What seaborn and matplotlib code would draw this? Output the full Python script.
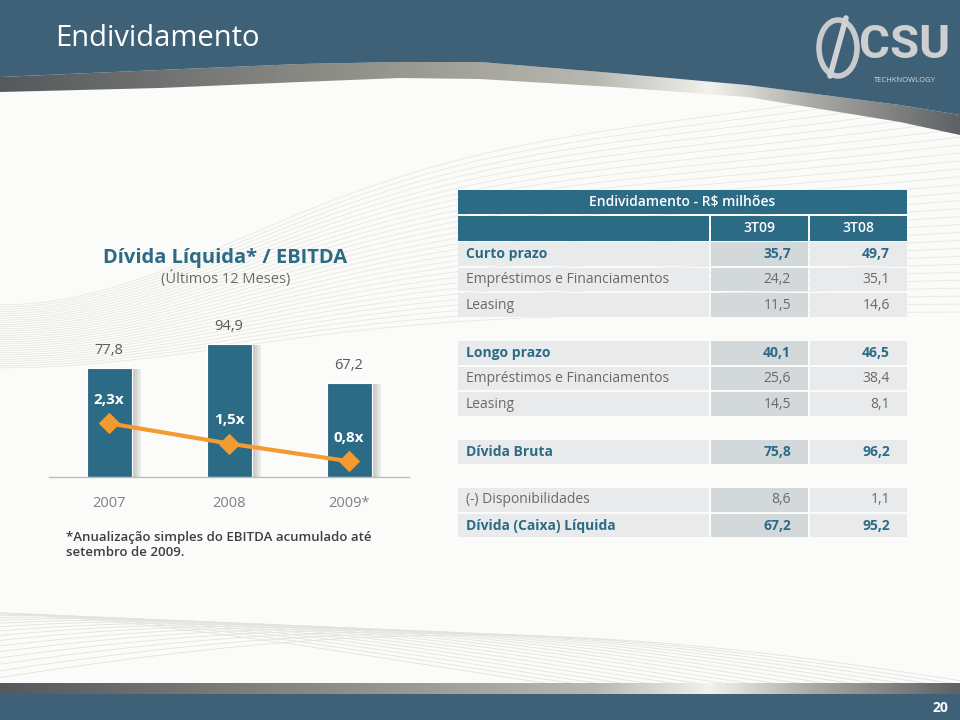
import numpy as np
import matplotlib
matplotlib.use("Agg")
import matplotlib.pyplot as plt
import matplotlib.patheffects as pe
from matplotlib.patches import Rectangle, Ellipse, Polygon
from matplotlib.colors import LinearSegmentedColormap
import seaborn as sns
import pandas as pd

# ---------------- data ----------------
years = ["2007", "2008", "2009*"]
divida_liquida = [77.8, 94.9, 67.2]
alavancagem = [2.3, 1.5, 0.8]

table_labels = ["Curto prazo", "Empréstimos e Financiamentos", "Leasing",
                "Longo prazo", "Empréstimos e Financiamentos", "Leasing",
                "Dívida Bruta",
                "(-) Disponibilidades", "Dívida (Caixa) Líquida"]
col_3t09 = [35.7, 24.2, 11.5, 40.1, 25.6, 14.5, 75.8, 8.6, 67.2]
col_3t08 = [49.7, 35.1, 14.6, 46.5, 38.4, 8.1, 96.2, 1.1, 95.2]
bold_rows = [True, False, False, True, False, False, True, False, True]
row_blocks = [3, 3, 1, 2]
col_headers = ["3T09", "3T08"]
table_title = "Endividamento - R$ milhões"

def fmt(v):
    return f"{v:.1f}".replace(".", ",")

# ---------------- style ----------------
sns.set_theme(style="white")
plt.rcParams["font.family"] = ["Open Sans", "DejaVu Sans"]

BLUE_HDR = "#3E6178"
TEAL = "#2C6B86"
ORANGE = "#F39A30"
GRAY_TXT = "#6A6A6A"
BG = "#FBFBF9"

W, H = 960, 720
fig = plt.figure(figsize=(9.6, 7.2), dpi=100)
fig.patch.set_facecolor(BG)

bg = fig.add_axes([0, 0, 1, 1])
bg.set_xlim(0, W)
bg.set_ylim(H, 0)
bg.axis("off")

# decorative faint curves (background texture)
xs = np.linspace(0, W, 240)
for k in range(30):
    yy = 95 + k * 5.5 + 150 * np.exp(-((xs) / 330) ** 2) * (1 - k / 45) - 0.00008 * xs ** 2 * (1 - k / 30)
    bg.plot(xs, yy + 60, color="#E7E7E3", lw=0.6, zorder=0)
for k in range(18):
    yy = 690 - 55 * np.sin(np.pi * (xs + 80) / 1100 + k * 0.10) - k * 1.5
    bg.plot(xs, yy, color="#E2E2DE", lw=0.6, zorder=0)

# header: blue band with curved metallic strip
cx = np.array([0, 160, 300, 400, 480, 613, 747, 900, 960])
top_c = np.array([77, 70, 64, 62, 62, 73, 85, 105, 115])
bot_c = np.array([92, 88, 82, 78, 79, 87, 97, 122, 135])
xx = np.linspace(0, W, 300)
tc = np.interp(xx, cx, top_c)
bc = np.interp(xx, cx, bot_c)
metal = LinearSegmentedColormap.from_list(
    "metal", [(0, "#55595C"), (0.35, "#8E8E88"), (0.62, "#B9B8B0"), (0.74, "#F2F2EE"),
              (0.85, "#A9A9A4"), (1.0, "#5E6265")])
strip = bg.fill_between(xx, tc, bc, color="none", lw=0, zorder=1)
grad = bg.imshow(np.linspace(0, 1, 256)[None, :], cmap=metal, aspect="auto",
                 extent=(0, W, 140, 55), zorder=1)
grad.set_clip_path(strip.get_paths()[0], transform=bg.transData)
bg.fill_between(xx, 0, tc, color=BLUE_HDR, zorder=2, lw=0)
bg.text(55, 39, "Endividamento", color="white", fontsize=21, va="center", ha="left", zorder=3)

# logo (approximation)
bg.add_patch(Ellipse((838, 48), 38, 56, fill=False, ec="#C8CACB", lw=4, zorder=3))
bg.plot([830, 846], [76, 18], color="#D0D2D3", lw=4, zorder=3)
bg.text(905, 45, "CSU", color="#CDCFD0", fontsize=34, fontweight="bold", ha="center",
        va="center", zorder=3, family=["Roboto", "DejaVu Sans"])
bg.text(905, 80, "TECHKNOWLOGY", color="#D8D8D8", fontsize=5.5, ha="center", va="center", zorder=3)

# footer
fstrip = Rectangle((0, 683), W, 11, color="none", lw=0)
bg.add_patch(fstrip)
fgrad = bg.imshow(np.linspace(0, 1, 256)[None, :], cmap=metal, aspect="auto",
                  extent=(0, W, 694, 683), zorder=2)
fgrad.set_clip_path(fstrip)
bg.add_patch(Rectangle((0, 694), W, 26, color=BLUE_HDR, zorder=2, lw=0))
bg.text(940, 708, "20", color="white", fontsize=10, fontweight="bold", ha="center", va="center", zorder=3)

# ---------------- table ----------------
tx0, tx1 = 458, 907
c1, c2 = 709, 808
sep = 2
bg.add_patch(Rectangle((tx0, 190), tx1 - tx0, 24, color=TEAL, zorder=2, lw=0))
bg.text((tx0 + tx1) / 2, 202, table_title, color="white", fontsize=10, fontweight="semibold",
        ha="center", va="center", zorder=3)
hy, hh = 216, 25
bg.add_patch(Rectangle((tx0, hy), c1 - tx0, hh, color=TEAL, zorder=2, lw=0))
bg.add_patch(Rectangle((c1 + sep, hy), c2 - c1 - sep, hh, color=TEAL, zorder=2, lw=0))
bg.add_patch(Rectangle((c2 + sep, hy), tx1 - c2 - sep, hh, color=TEAL, zorder=2, lw=0))
bg.text((c1 + sep + c2) / 2, hy + hh / 2, col_headers[0], color="white", fontsize=10,
        fontweight="semibold", ha="center", va="center", zorder=3)
bg.text((c2 + sep + tx1) / 2, hy + hh / 2, col_headers[1], color="white", fontsize=10,
        fontweight="semibold", ha="center", va="center", zorder=3)

pitch, gap = 25.6, 22.3
y = 242.0
i = 0
for nb in row_blocks:
    for _ in range(nb):
        h = pitch - sep
        bg.add_patch(Rectangle((tx0, y), c1 - tx0, h, color="#E8EAEB", zorder=2, lw=0))
        bg.add_patch(Rectangle((c1 + sep, y), c2 - c1 - sep, h, color="#D3D8DB", zorder=2, lw=0))
        bg.add_patch(Rectangle((c2 + sep, y), tx1 - c2 - sep, h, color="#E8EAEB", zorder=2, lw=0))
        b = bold_rows[i]
        col = TEAL if b else GRAY_TXT
        fw = "bold" if b else "normal"
        yc = y + h / 2
        bg.text(466, yc, table_labels[i], color=col, fontweight=fw, fontsize=10, ha="left", va="center", zorder=3)
        bg.text(791, yc, fmt(col_3t09[i]), color=col, fontweight=fw, fontsize=10, ha="right", va="center", zorder=3)
        bg.text(890, yc, fmt(col_3t08[i]), color=col, fontweight=fw, fontsize=10, ha="right", va="center", zorder=3)
        y += pitch
        i += 1
    y += gap

# ---------------- chart ----------------
base_px, top_px = 476.7, 308.7
ax = fig.add_axes([49 / W, 1 - base_px / H, 360 / W, (base_px - top_px) / H])
ax.set_facecolor("none")
df = pd.DataFrame({"ano": years, "divida": divida_liquida, "ratio": alavancagem})
sns.barplot(data=df, x="ano", y="divida", ax=ax, color=TEAL, saturation=1, width=0.375)
shadow = [pe.SimplePatchShadow(offset=(o, -1), shadow_rgbFace="#6f6f6f", alpha=0.10) for o in (7, 5.5, 4, 2.5)]
shadow.append(pe.Normal())
for p in ax.patches:
    p.set_path_effects(shadow)
    p.set_edgecolor("white")
    p.set_linewidth(0.8)
ax.set_ylim(0, 120)
ax.set_xlim(-0.5, 2.5)
for c in ax.containers:
    ax.bar_label(c, labels=[fmt(v) for v in divida_liquida], padding=7, fontsize=10.5, color="#5A5A5A")
ax.set_xlabel("")
ax.set_ylabel("")
ax.set_yticks([])
ax.set_xticks(range(len(years)))
ax.set_xticklabels(years, fontsize=10.5, color="#808080")
ax.tick_params(axis="x", which="major", length=0, pad=14)
ax.set_xticks([0.5, 1.5, 2.5], minor=True)
ax.tick_params(axis="x", which="minor", length=5, color="#BDBDBD", width=1, direction="out")
for s in ["top", "right", "left"]:
    ax.spines[s].set_visible(False)
ax.spines["bottom"].set_color("#BDBDBD")
ax.spines["bottom"].set_linewidth(1)

ax2 = ax.twinx()
ax2.set_facecolor("none")
sns.lineplot(x=list(range(len(years))), y=alavancagem, ax=ax2, color=ORANGE, lw=3,
             marker="D", markersize=10, markeredgecolor=ORANGE)
ax2.set_ylim(0.19, 6.83)
ax2.set_xlim(-0.5, 2.5)
ax2.axis("off")
for xi, v in enumerate(alavancagem):
    ax2.annotate(fmt(v) + "x", (xi, v), xytext=(0, 17), textcoords="offset points",
                 ha="center", va="center", color="white", fontsize=11, fontweight="bold")

# chart titles & footnote
fig.text(225 / W, 1 - 258 / H, "Dívida Líquida* / EBITDA", color=TEAL, fontsize=14.5,
         fontweight="bold", ha="center", va="center")
fig.text(226 / W, 1 - 279 / H, "(Últimos 12 Meses)", color="#6A6A6A", fontsize=10.5,
         ha="center", va="center")
fig.text(66 / W, 1 - 545 / H, "*Anualização simples do EBITDA acumulado até\nsetembro de 2009.",
         color="#3F3F3F", fontsize=9.5, fontweight="semibold", ha="left", va="center", linespacing=1.15)

fig.savefig("out.png", dpi=100, facecolor=fig.get_facecolor())
